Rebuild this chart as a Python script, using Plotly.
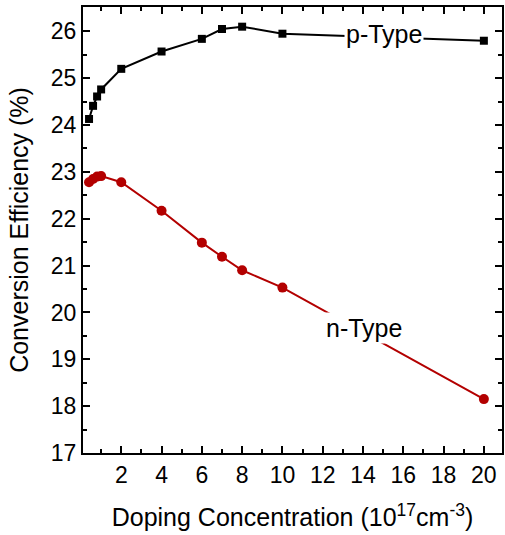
import plotly.graph_objects as go

# Doping concentration (1e17 cm^-3)
p_conc = [0.4, 0.6, 0.8, 1.0, 2, 4, 6, 7, 8, 10, 20]
p_eff = [24.13, 24.41, 24.61, 24.76, 25.20, 25.57, 25.84, 26.05, 26.10, 25.95, 25.80]

n_conc = [0.4, 0.6, 0.8, 1.0, 2, 4, 6, 7, 8, 10, 20]
n_eff = [22.78, 22.85, 22.90, 22.91, 22.78, 22.17, 21.49, 21.19, 20.90, 20.53, 18.15]

x_ticks = [2, 4, 6, 8, 10, 12, 14, 16, 18, 20]
y_ticks = [17, 18, 19, 20, 21, 22, 23, 24, 25, 26]

family = "Liberation Sans, Arial, sans-serif"
tick_font = dict(family=family, size=23, color="black")
title_font = dict(family=family, size=25, color="black")
label_font = dict(family=family, size=25, color="black")

fig = go.Figure()
fig.add_trace(go.Scatter(
    x=p_conc, y=p_eff, mode="lines+markers", name="p-Type",
    line=dict(color="black", width=2),
    marker=dict(symbol="square", size=8, color="black"),
))
fig.add_trace(go.Scatter(
    x=n_conc, y=n_eff, mode="lines+markers", name="n-Type",
    line=dict(color="#b30000", width=2),
    marker=dict(symbol="circle", size=10, color="#b30000"),
))

fig.add_annotation(x=15.05, y=25.95, text="p-Type", showarrow=False,
                   font=label_font, bgcolor="white", borderpad=1)
fig.add_annotation(x=14.05, y=19.66, text="n-Type", showarrow=False,
                   font=label_font, bgcolor="white", borderpad=1)

axis_common = dict(
    showline=True, linecolor="black", linewidth=2, mirror="ticks",
    ticks="inside", ticklen=7, tickwidth=2, tickcolor="black",
    showgrid=False, zeroline=False, tickfont=tick_font,
)

fig.update_xaxes(
    range=[0.1, 20.9], tickvals=x_ticks,
    minor=dict(ticks="inside", ticklen=4, tickwidth=2, tickcolor="black",
               tickvals=[1, 3, 5, 7, 9, 11, 13, 15, 17, 19]),
    title=dict(text="Doping Concentration (10<sup>17</sup>cm<sup>-3</sup>)",
               font=title_font, standoff=22),
    **axis_common,
)
fig.update_yaxes(
    range=[17, 26.52], tickvals=y_ticks,
    minor=dict(ticks="inside", ticklen=4, tickwidth=2, tickcolor="black",
               tickvals=[17.5, 18.5, 19.5, 20.5, 21.5, 22.5, 23.5, 24.5, 25.5, 26.5]),
    title=dict(text="Conversion Efficiency (%)", font=title_font, standoff=15),
    **axis_common,
)

fig.update_layout(
    width=505, height=535,
    margin=dict(l=83, r=1, t=7, b=82),
    plot_bgcolor="white", paper_bgcolor="white",
    showlegend=False,
)

fig.write_html("out.html")
